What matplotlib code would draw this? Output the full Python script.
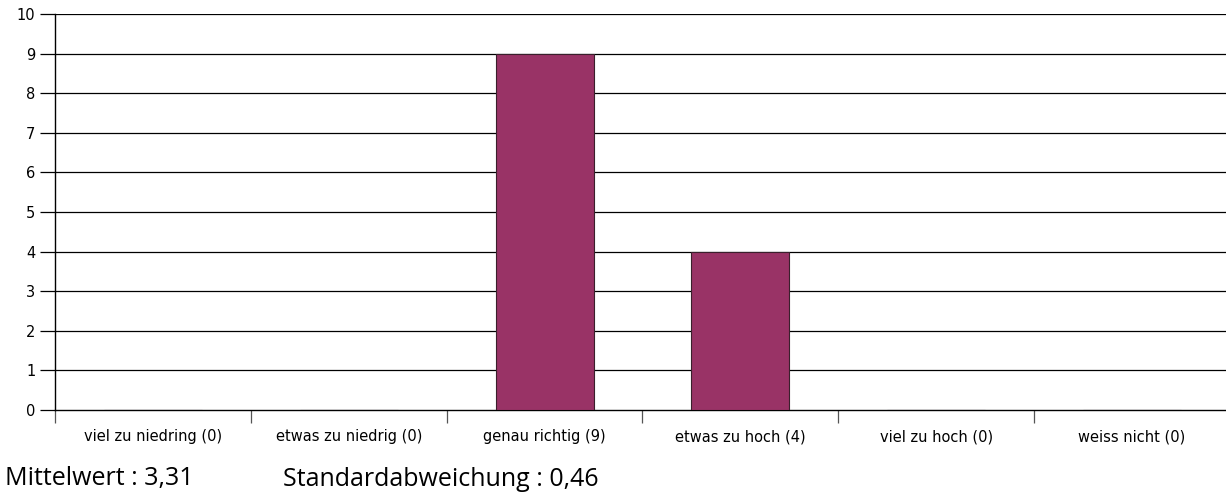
import numpy as np
import matplotlib
matplotlib.use('Agg')
import matplotlib.pyplot as plt

categories=['viel zu niedring (0)','etwas zu niedrig (0)','genau richtig (9)','etwas zu hoch (4)','viel zu hoch (0)','weiss nicht (0)']
counts=[0,0,9,4,0,0]
yticks=list(range(0,11))
mean_text='Mittelwert : 3,31'
std_text='Standardabweichung : 0,46'

W,H=1226,496
dpi=100
fig=plt.figure(figsize=(W/dpi,H/dpi),dpi=dpi)
ax=fig.add_axes([55/W,1-410/H,(1230-55)/W,(410-14)/H])

x=np.arange(len(categories))
ax.bar(x,counts,width=0.5,color='#993366',edgecolor='#3a1f2c',linewidth=0.8,zorder=3)

ax.set_xlim(-0.5,len(categories)-0.5)
ax.set_ylim(0,10)
ax.set_yticks(yticks)
ax.set_yticklabels([str(v) for v in yticks],fontsize=10.5,family='DejaVu Sans')
for v in yticks[1:]:
	ax.axhline(v,color='black',linewidth=0.9,zorder=1)

ax.set_xticks(x)
ax.set_xticklabels(categories,fontsize=10.5,family='DejaVu Sans')
ax.tick_params(axis='x',length=0,pad=14)
ax.set_xticks(np.arange(-0.5,len(categories)),minor=True)
ax.tick_params(axis='x',which='minor',length=9,color='#555555',width=0.9)
ax.tick_params(axis='y',length=11,width=0.9,pad=3)

for s in ['top','right']:
	ax.spines[s].set_visible(False)
ax.spines['left'].set_linewidth(1.0)
ax.spines['bottom'].set_linewidth(1.0)

fig.text(5/W,1-479/H,mean_text,fontsize=18,family='Open Sans',va='center',ha='left')
fig.text(283/W,1-479/H,std_text,fontsize=18,family='Open Sans',va='center',ha='left')

plt.savefig('out.png',dpi=dpi)
